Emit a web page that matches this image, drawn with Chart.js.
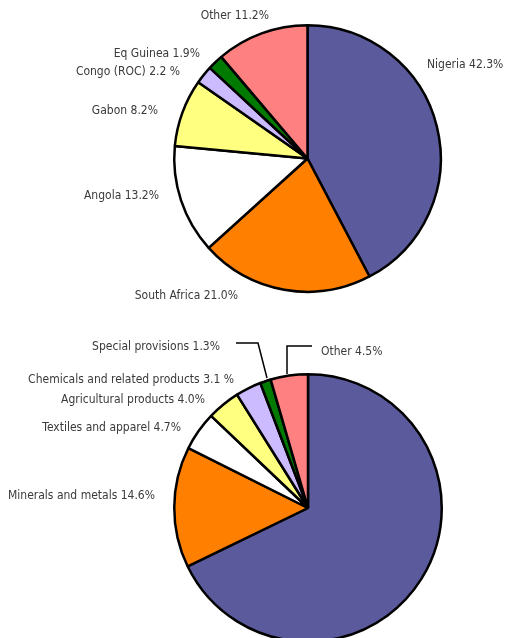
<!DOCTYPE html>
<html>
<head>
<meta charset="utf-8">
<script src="https://cdn.jsdelivr.net/npm/chart.js@4.4.0/dist/chart.umd.min.js"></script>
<style>
  html, body { margin: 0; padding: 0; background: #fff; width: 505px; height: 638px; overflow: hidden; }
  canvas { display: block; }
</style>
</head>
<body>
<canvas id="topPie" width="505" height="320"></canvas>
<canvas id="bottomPie" width="505" height="330"></canvas>
<script>
// top chart: oil exporters
const topCategories = ["Nigeria", "South Africa", "Angola", "Gabon", "Congo (ROC)", "Eq Guinea", "Other"];
const topValues = [42.3, 21.0, 13.2, 8.2, 2.2, 1.9, 11.2];
const topTexts = ["Nigeria 42.3%", "South Africa 21.0%", "Angola 13.2%", "Gabon 8.2%", "Congo (ROC) 2.2 %", "Eq Guinea 1.9%", "Other 11.2%"];

// bottom chart: product groups (largest slice carries no label)
const bottomCategories = ["", "Minerals and metals", "Textiles and apparel", "Agricultural products", "Chemicals and related products", "Special provisions", "Other"];
const bottomValues = [67.8, 14.6, 4.7, 4.0, 3.1, 1.3, 4.5];
const bottomTexts = ["", "Minerals and metals 14.6%", "Textiles and apparel 4.7%", "Agricultural products 4.0%", "Chemicals and related products 3.1 %", "Special provisions 1.3%", "Other 4.5%"];

const sliceColors = ["#5b5a9c", "#ff8000", "#ffffff", "#ffff80", "#ccbbff", "#007a00", "#ff8080"];

// where each label sits: [x, y, align]
const topLabelPos = [
  [427, 65, "left"], [238, 296, "right"], [159, 196, "right"], [158, 111, "right"],
  [180, 72, "right"], [200, 54, "right"], [269, 16, "right"]
];
const bottomLabelPos = [
  null, [155, 176, "right"], [181, 108, "right"], [205, 80, "right"],
  [234, 60, "right"], [220, 27, "right"], [321, 32, "left"]
];
// leader lines on the bottom chart (special provisions, other)
const bottomLeaders = [
  [[236, 23], [258, 23], [267, 58]],
  [[312, 26], [287, 26], [287, 54]]
];

const labelPlugin = {
  id: "sliceLabels",
  afterDraw(chart, args, opts) {
    const ctx = chart.ctx;
    ctx.save();
    ctx.font = "12px 'DejaVu Sans Condensed', 'DejaVu Sans', sans-serif";
    ctx.fillStyle = "#3a3a3a";
    ctx.textBaseline = "middle";
    opts.texts.forEach((t, i) => {
      const p = opts.pos[i];
      if (!t || !p) return;
      ctx.textAlign = p[2];
      ctx.fillText(t, p[0], p[1]);
    });
    ctx.strokeStyle = "#000";
    ctx.lineWidth = 1.5;
    (opts.leaders || []).forEach(l => {
      ctx.beginPath();
      ctx.moveTo(l[0][0], l[0][1]);
      for (let k = 1; k < l.length; k++) ctx.lineTo(l[k][0], l[k][1]);
      ctx.stroke();
    });
    ctx.restore();
  }
};

function makePie(id, categories, values, texts, pos, leaders, padding) {
  return new Chart(document.getElementById(id), {
    type: "pie",
    data: {
      labels: categories,
      datasets: [{
        data: values,
        backgroundColor: sliceColors,
        borderColor: "#000",
        borderWidth: 2.5
      }]
    },
    options: {
      responsive: false,
      animation: false,
      layout: { padding: padding },
      plugins: {
        legend: { display: false },
        tooltip: { enabled: false },
        sliceLabels: { texts: texts, pos: pos, leaders: leaders }
      }
    },
    plugins: [labelPlugin]
  });
}

makePie("topPie", topCategories, topValues, topTexts, topLabelPos, [], { left: 173, right: 63, top: 24, bottom: 27 });
makePie("bottomPie", bottomCategories, bottomValues, bottomTexts, bottomLabelPos, bottomLeaders, { left: 173, right: 62, top: 53, bottom: 7 });
</script>
</body>
</html>
